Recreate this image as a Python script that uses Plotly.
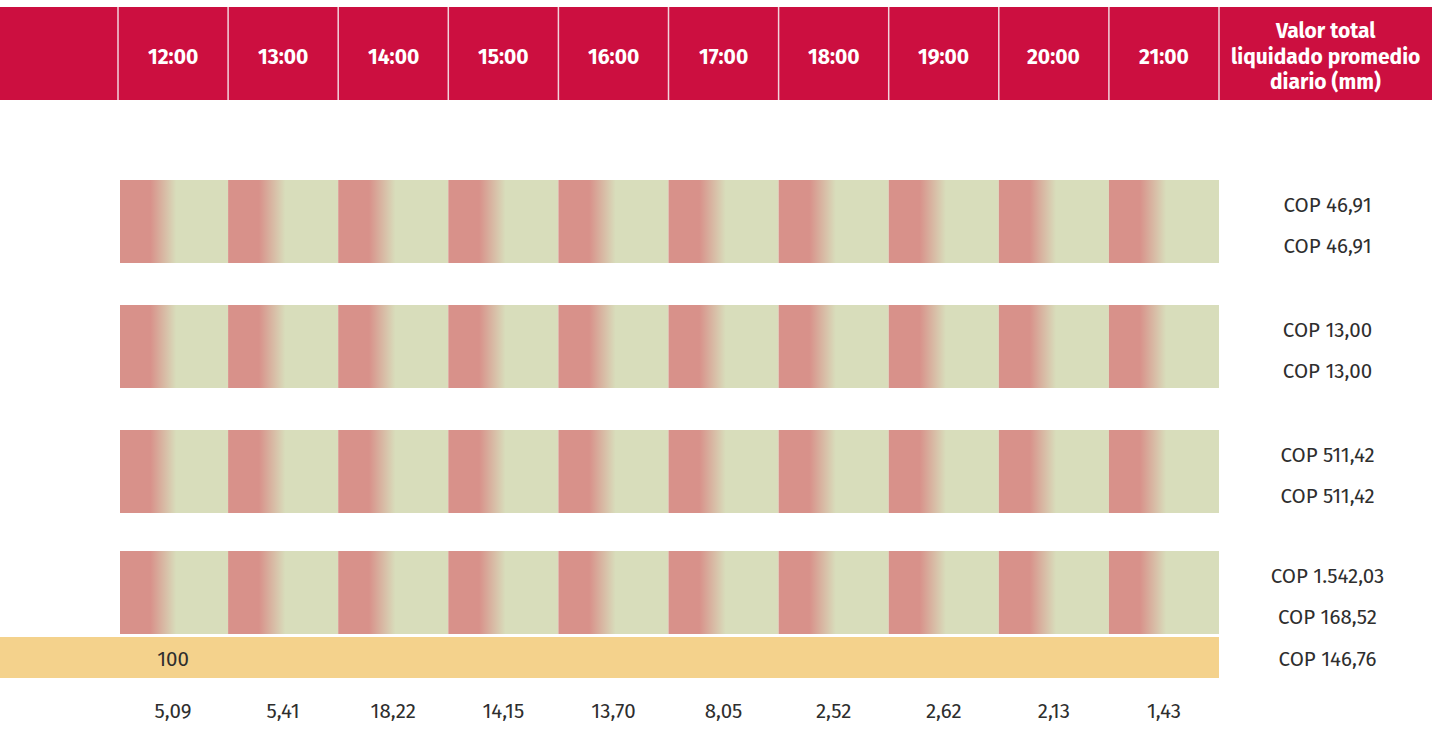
import plotly.graph_objects as go

# ---- data ----
hours = ["12:00", "13:00", "14:00", "15:00", "16:00",
         "17:00", "18:00", "19:00", "20:00", "21:00"]
hourly_mm = [5.09, 5.41, 18.22, 14.15, 13.70, 8.05, 2.52, 2.62, 2.13, 1.43]
row_value_a = [46.91, 13.00, 511.42, 1542.03]
row_value_b = [46.91, 13.00, 511.42, 168.52]
base_label = 100
base_total = 146.76
total_header = ["Valor total", "liquidado promedio", "diario (mm)"]

# ---- styling / layout constants ----
W, H = 1432, 731
HEAD_RED = "#CC0F40"
CELL_RED = "#D8918A"
CELL_GREEN = "#D8DDBB"
BASE_YELLOW = "#F4D28C"
TEXT = "#2E2E2E"
FONT = "Fira Sans, Noto Sans, sans-serif"
BODY_SIZE = 20.5
HEAD_SIZE = 21

FIRST_COL = 118.0
COL_W = 110.1
HEAD_TOP, HEAD_BOT = 7, 100
HEAD_LINE_GAP = 25.5
ROW_TOPS = [180, 305, 430, 551]
ROW_H = 83
BASE_TOP, BASE_BOT = 637, 678
TOTAL_X = FIRST_COL + COL_W * len(hours) + (W - FIRST_COL - COL_W * len(hours)) / 2 + 2


def fmt_es(v, nd=2):
    s = f"{v:,.{nd}f}"
    return s.replace(",", "X").replace(".", ",").replace("X", ".")


def col_left(i):
    return FIRST_COL + COL_W * i


def col_center(i):
    return col_left(i) + COL_W / 2


fig = go.Figure()
shapes = []

# header band with separators
shapes.append(dict(type="rect", xref="x", yref="y", x0=0, x1=W, y0=HEAD_TOP, y1=HEAD_BOT,
                   fillcolor=HEAD_RED, line=dict(width=0), layer="below"))
for i in range(len(hours) + 1):
    x = col_left(i)
    shapes.append(dict(type="line", xref="x", yref="y", x0=x, x1=x, y0=HEAD_TOP, y1=HEAD_BOT,
                       line=dict(color="#F2D4DC", width=1.5)))

# gradient cells: one polygon per hour and row
grad = [[0, CELL_RED], [0.28, CELL_RED], [0.52, CELL_GREEN], [1, CELL_GREEN]]
for top in ROW_TOPS:
    bot = top + ROW_H
    for i in range(len(hours)):
        l = col_left(i) + (2 if i == 0 else 0)
        rr = col_left(i + 1)
        fig.add_trace(go.Scatter(
            x=[l, rr, rr, l, l], y=[top, top, bot, bot, top],
            mode="lines", line=dict(width=0), fill="toself",
            fillgradient=dict(type="horizontal", colorscale=grad),
            hoverinfo="skip", showlegend=False))

# base band
shapes.append(dict(type="rect", xref="x", yref="y", x0=0, x1=col_left(len(hours)),
                   y0=BASE_TOP, y1=BASE_BOT, fillcolor=BASE_YELLOW, line=dict(width=0),
                   layer="below"))

# header labels
head_mid = (HEAD_TOP + HEAD_BOT) / 2 + 3
annotations = []
for i, h in enumerate(hours):
    annotations.append(dict(x=col_center(i), y=head_mid, text=f"<b>{h}</b>",
                            showarrow=False, font=dict(family=FONT, size=HEAD_SIZE, color="white"),
                            xanchor="center", yanchor="middle"))
for k, line in enumerate(total_header):
    annotations.append(dict(x=TOTAL_X - 2, y=head_mid + (k - 1) * HEAD_LINE_GAP,
                            text=f"<b>{line}</b>",
                            showarrow=False, font=dict(family=FONT, size=HEAD_SIZE, color="white"),
                            xanchor="center", yanchor="middle"))

# right-hand totals
tx, ty, tt = [], [], []
for r, top in enumerate(ROW_TOPS):
    tx += [TOTAL_X, TOTAL_X]
    ty += [top + 27, top + 67.5]
    tt += ["COP " + fmt_es(row_value_a[r]), "COP " + fmt_es(row_value_b[r])]
tx.append(TOTAL_X)
ty.append((BASE_TOP + BASE_BOT) / 2 + 3)
tt.append("COP " + fmt_es(base_total))
fig.add_trace(go.Scatter(x=tx, y=ty, text=tt, mode="text", textposition="middle center",
                         textfont=dict(family=FONT, size=BODY_SIZE, color=TEXT),
                         hoverinfo="skip", showlegend=False))

# base label and hourly values
fig.add_trace(go.Scatter(x=[col_center(0)], y=[(BASE_TOP + BASE_BOT) / 2 + 3], text=[str(base_label)],
                         mode="text", textposition="middle center",
                         textfont=dict(family=FONT, size=BODY_SIZE, color=TEXT),
                         hoverinfo="skip", showlegend=False))
fig.add_trace(go.Scatter(x=[col_center(i) for i in range(len(hours))], y=[713] * len(hours),
                         text=[fmt_es(v) for v in hourly_mm], mode="text",
                         textposition="middle center",
                         textfont=dict(family=FONT, size=BODY_SIZE, color=TEXT),
                         hoverinfo="skip", showlegend=False))

fig.update_layout(
    width=W, height=H, margin=dict(l=0, r=0, t=0, b=0),
    paper_bgcolor="white", plot_bgcolor="white",
    xaxis=dict(range=[0, W], visible=False, fixedrange=True),
    yaxis=dict(range=[H, 0], visible=False, fixedrange=True),
    shapes=shapes, annotations=annotations,
)
fig.write_html("out.html")
